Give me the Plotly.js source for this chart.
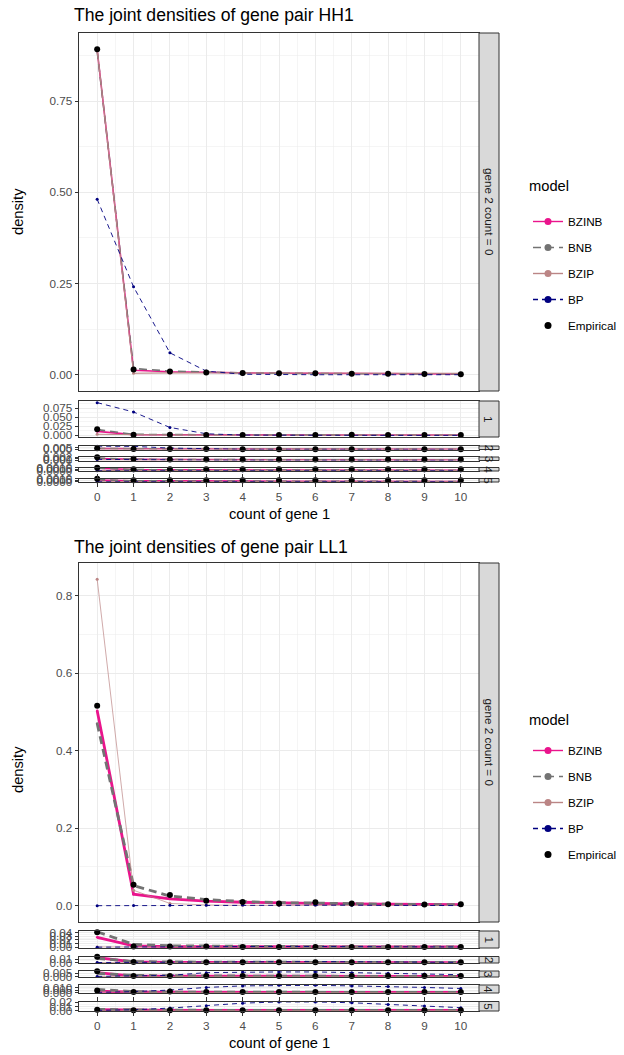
<!DOCTYPE html>
<html><head><meta charset="utf-8">
<script src="https://cdn.plot.ly/plotly-3.0.1.min.js"></script>
<style>html,body{margin:0;padding:0;background:#fff}#chart{width:624px;height:1055px}</style>
</head><body><div id="chart"></div>
<script>
// ---------- data ----------
const gene1Counts = [0,1,2,3,4,5,6,7,8,9,10];
const gene2Counts = [0,1,2,3,4,5];
const modelNames = ["BZINB","BNB","BZIP","BP","Empirical"];
const chartTitles = ["The joint densities of gene pair HH1","The joint densities of gene pair LL1"];

// gene pair HH1: rows = gene 2 count 0..5, columns = gene 1 count 0..10
const hh1_BZINB = [
  [0.890,0.012,0.008,0.006,0.005,0.004,0.004,0.003,0.003,0.003,0.002],
  [0.011,0.002,0.0015,0.001,0.001,0.001,0.001,0.001,0.001,0.001,0.001],
  [0.002,0.001,0.001,0.0008,0.0007,0.0006,0.0005,0.0005,0.0004,0.0004,0.0004],
  [0.0012,0.0006,0.0005,0.0004,0.0004,0.0003,0.0003,0.0003,0.0003,0.0002,0.0002],
  [0.0008,0.0004,0.0003,0.0003,0.0003,0.0002,0.0002,0.0002,0.0002,0.0002,0.0002],
  [0.0006,0.0003,0.0003,0.0002,0.0002,0.0002,0.0002,0.0002,0.0001,0.0001,0.0001]
];
const hh1_BNB = [
  [0.887,0.017,0.010,0.007,0.005,0.004,0.003,0.003,0.002,0.002,0.002],
  [0.016,0.003,0.002,0.0015,0.001,0.001,0.001,0.001,0.001,0.001,0.001],
  [0.0025,0.001,0.001,0.0008,0.0007,0.0006,0.0005,0.0005,0.0004,0.0004,0.0004],
  [0.0014,0.0007,0.0005,0.0004,0.0004,0.0003,0.0003,0.0003,0.0003,0.0002,0.0002],
  [0.0009,0.0004,0.0003,0.0003,0.0003,0.0002,0.0002,0.0002,0.0002,0.0002,0.0002],
  [0.0007,0.0003,0.0003,0.0002,0.0002,0.0002,0.0002,0.0002,0.0001,0.0001,0.0001]
];
const hh1_BZIP = [
  [0.891,0.004,0.005,0.005,0.005,0.005,0.005,0.005,0.005,0.004,0.004],
  [0.003,0.001,0.001,0.001,0.001,0.001,0.001,0.001,0.001,0.001,0.001],
  [0.0005,0.0005,0.0005,0.0005,0.0005,0.0005,0.0005,0.0005,0.0005,0.0005,0.0005],
  [0.0002,0.0002,0.0002,0.0002,0.0002,0.0002,0.0002,0.0002,0.0002,0.0002,0.0002],
  [0.0001,0.0001,0.0001,0.0001,0.0001,0.0001,0.0001,0.0001,0.0001,0.0001,0.0001],
  [0,0,0,0,0,0,0,0,0,0,0]
];
const hh1_BP = [
  [0.481,0.241,0.060,0.010,0.0013,0.0001,0,0,0,0,0],
  [0.091,0.065,0.022,0.0045,0.0007,0.0001,0,0,0,0,0],
  [0.0086,0.0080,0.0035,0.0008,0.0001,0,0,0,0,0,0],
  [0.0006,0.0006,0.0003,0.0001,0,0,0,0,0,0,0],
  [0,0,0,0,0,0,0,0,0,0,0],
  [0,0,0,0,0,0,0,0,0,0,0]
];
const hh1_Empirical = [
  [0.892,0.014,0.009,0.006,0.005,0.004,0.004,0.003,0.003,0.002,0.001],
  [0.017,0.002,0.002,0.001,0.001,0.001,0.001,0.002,0.001,0.001,0.001],
  [0.003,0.001,0.001,0.001,0.0005,0.0005,0.0005,0.0005,0.0005,0.0005,0.0005],
  [0.002,0.001,0.0005,0.0005,0.0005,0.0005,0.0005,0.0005,0.0005,0.0005,0.0005],
  [0.001,0.0005,0.0005,0.0005,0.0005,0.0005,0.0005,0.0005,0.0005,0.0005,0.0005],
  [0.001,0.0005,0.0005,0.0005,0.0005,0.0005,0.0005,0.0005,0.0005,0.0005,0.0005]
];

// gene pair LL1
const ll1_BZINB = [
  [0.503,0.030,0.018,0.012,0.009,0.007,0.006,0.005,0.004,0.004,0.003],
  [0.027,0.004,0.002,0.0015,0.001,0.001,0.001,0.001,0.001,0.001,0.001],
  [0.014,0.002,0.001,0.001,0.001,0.0008,0.0007,0.0006,0.0005,0.0005,0.0004],
  [0.006,0.001,0.001,0.0008,0.0007,0.0006,0.0005,0.0005,0.0004,0.0004,0.0003],
  [0.003,0.001,0.0008,0.0007,0.0006,0.0005,0.0005,0.0004,0.0004,0.0003,0.0003],
  [0.002,0.0006,0.0005,0.0005,0.0004,0.0004,0.0004,0.0003,0.0003,0.0003,0.0003]
];
const ll1_BNB = [
  [0.470,0.052,0.025,0.016,0.011,0.008,0.007,0.005,0.004,0.003,0.003],
  [0.042,0.008,0.004,0.003,0.002,0.0015,0.0012,0.001,0.001,0.001,0.001],
  [0.012,0.003,0.002,0.0015,0.0012,0.001,0.001,0.0008,0.0007,0.0006,0.0005],
  [0.005,0.002,0.0015,0.001,0.001,0.0008,0.0007,0.0006,0.0005,0.0005,0.0004],
  [0.006,0.002,0.001,0.0009,0.0008,0.0007,0.0006,0.0005,0.0005,0.0004,0.0004],
  [0.003,0.001,0.0008,0.0007,0.0006,0.0005,0.0005,0.0004,0.0004,0.0003,0.0003]
];
const ll1_BZIP = [
  [0.842,0.040,0.006,0.002,0.001,0.001,0.001,0.001,0.001,0.001,0.001],
  [0.001,0.002,0.001,0.0005,0.0003,0.0002,0.0002,0.0001,0.0001,0.0001,0.0001],
  [0.0005,0.001,0.0008,0.0004,0.0002,0.0001,0.0001,0.0001,0,0,0],
  [0.0003,0.0005,0.0005,0.0003,0.0002,0.0001,0.0001,0,0,0,0],
  [0.002,0.0006,0.0004,0.0002,0.0001,0.0001,0,0,0,0,0],
  [0.0005,0.0004,0.0003,0.0002,0.0001,0.0001,0.0001,0.0005,0.0001,0,0]
];
const ll1_BP = [
  [0.0002,0.0005,0.001,0.0015,0.002,0.002,0.002,0.0015,0.001,0.0008,0.0005],
  [0.0003,0.001,0.0018,0.002,0.0022,0.0022,0.002,0.0018,0.0015,0.001,0.0008],
  [0.0005,0.001,0.002,0.003,0.003,0.003,0.003,0.0025,0.002,0.0015,0.001],
  [0.0005,0.001,0.002,0.006,0.007,0.007,0.007,0.006,0.005,0.004,0.003],
  [0.0005,0.002,0.005,0.010,0.013,0.014,0.014,0.013,0.012,0.010,0.008],
  [0.0005,0.002,0.006,0.012,0.018,0.021,0.021,0.019,0.015,0.011,0.007]
];
const ll1_Empirical = [
  [0.516,0.054,0.028,0.013,0.010,0.006,0.009,0.006,0.004,0.003,0.004],
  [0.041,0.002,0.002,0.002,0.001,0.001,0.001,0.001,0.001,0.001,0.001],
  [0.016,0.002,0.001,0.001,0.001,0.001,0.001,0.001,0.001,0.001,0.001],
  [0.008,0.001,0.001,0.001,0.001,0.001,0.001,0.001,0.001,0.001,0.001],
  [0.004,0.001,0.002,0.001,0.001,0.001,0.001,0.001,0.001,0.001,0.001],
  [0.002,0.0005,0.0005,0.0005,0.0005,0.0005,0.0005,0.0005,0.0005,0.0005,0.0005]
];

// ---------- styling / geometry ----------
const W = 624, H = 1055;
const fx = p => p / W, fy = p => 1 - p / H;
const FONT = "Liberation Sans, Arial, Helvetica, sans-serif";
const colors = {BZINB:"#ea148c", BNB:"#737373", BZIP:"#bb8585", BP:"#000080", Empirical:"#000000"};
const chartData = [
  {BZINB:hh1_BZINB, BNB:hh1_BNB, BZIP:hh1_BZIP, BP:hh1_BP, Empirical:hh1_Empirical},
  {BZINB:ll1_BZINB, BNB:ll1_BNB, BZIP:ll1_BZIP, BP:ll1_BP, Empirical:ll1_Empirical}
];
const lineW = [
  {BZINB:1.6, BNB:1.6, BZIP:1.1, BP:0.9},
  {BZINB:2.8, BNB:2.8, BZIP:0.7, BP:0.9}
];
const dashes = {BZINB:"solid", BNB:"8px,5px", BZIP:"solid", BP:"5px,4px"};
const panelPx = [
  [[33,391],[401,437],[446,449.5],[457,460.5],[467.5,471],[478.5,482]],
  [[563,922],[931,948],[956.5,963],[971,977],[985,993],[1001.5,1011]]
];
const tickStep = [[0.25,0.025,0,0,0,0],[0.2,0.01,0,0,0,0]];
const chartMeta = [
  {titleY:15, ylabY:212, xlabY:514, legTitleY:186, legendTop:207},
  {titleY:547, ylabY:770, xlabY:1043, legTitleY:720, legendTop:736}
];
const PX0 = 79, PX1 = 479, SX0 = 479, SX1 = 499;

function autoStep(span){
  const raw = span/3, mag = Math.pow(10, Math.floor(Math.log10(raw)));
  for (const m of [1,2,2.5,5,10]) if (m*mag >= raw) return m*mag;
  return 10*mag;
}
function decimals(step){
  let d = 0;
  while (d < 8 && Math.abs(Math.round(step*Math.pow(10,d)) - step*Math.pow(10,d)) > 1e-7) d++;
  return d;
}

const traces = [], layout = {
  width: W, height: H, margin:{l:0,r:0,t:0,b:0},
  paper_bgcolor:"#fff", plot_bgcolor:"#fff",
  font:{family:FONT, color:"#000"},
  shapes:[], annotations:[], showlegend:true
};
const gridC = "#ebebeb", lineC = "#333333";

chartData.forEach((cd, c) => {
  const xName = c === 0 ? "x" : "x2";
  const xKey = c === 0 ? "xaxis" : "xaxis2";
  const lastY = c*6 + 6;
  layout[xKey] = {
    domain:[fx(PX0), fx(PX1)], anchor:"y"+lastY, range:[-0.5,10.5],
    tickvals:gene1Counts, ticktext:gene1Counts.map(String),
    ticks:"outside", ticklen:3.5, tickwidth:1, tickcolor:lineC,
    tickfont:{size:11.7, color:"#4d4d4d", family:FONT},
    showgrid:true, gridcolor:gridC, gridwidth:1,
    minor:{dtick:0.5, tick0:0.5, showgrid:true, gridcolor:gridC, gridwidth:0.5, ticks:""},
    showline:true, linecolor:lineC, linewidth:1, mirror:"all", zeroline:false, fixedrange:true
  };
  gene2Counts.forEach((g2, r) => {
    const yi = c*6 + r + 1;
    const yName = "y" + yi, yKey = "yaxis" + yi;
    let lo = Infinity, hi = -Infinity;
    modelNames.forEach(m => cd[m][r].forEach(v => { lo = Math.min(lo, v); hi = Math.max(hi, v); }));
    const span = (hi - lo) || 1e-4;
    const rng = [lo - 0.05*span, hi + 0.05*span];
    const step = tickStep[c][r] || autoStep(span);
    const dec = decimals(step);
    const tv = [], mv = [];
    for (let k = Math.ceil(rng[0]/step); k*step <= rng[1] + 1e-12; k++) tv.push(+(k*step).toFixed(10));
    for (let k = Math.ceil(rng[0]/(step/2)); k*(step/2) <= rng[1]; k++) if (k % 2) mv.push(k*step/2);
    const [p0, p1] = panelPx[c][r];
    layout[yKey] = {
      domain:[fy(p1), fy(p0)], anchor:xName, range:rng,
      tickvals:tv, ticktext:tv.map(v => Math.abs(v).toFixed(dec)),
      ticks:"outside", ticklen:3.5, tickwidth:1, tickcolor:lineC,
      tickfont:{size:11.7, color:"#4d4d4d", family:FONT},
      showgrid:true, gridcolor:gridC, gridwidth:1,
      minor:{tickvals:mv, showgrid:true, gridcolor:gridC, gridwidth:0.5, ticks:""},
      showline:true, linecolor:lineC, linewidth:1, mirror:"all", zeroline:false, fixedrange:true
    };
    // strip
    layout.shapes.push({type:"rect", xref:"paper", yref:"paper", x0:fx(SX0), x1:fx(SX1), y0:fy(p1), y1:fy(p0),
      fillcolor:"#d9d9d9", line:{color:lineC, width:1}, layer:"above"});
    layout.annotations.push({xref:"paper", yref:"paper", x:fx((SX0+SX1)/2), y:fy((p0+p1)/2),
      text: r === 0 ? "gene 2 count = 0" : String(g2), textangle:90, showarrow:false,
      font:{size:11.7, color:"#1a1a1a", family:FONT}, xanchor:"center", yanchor:"middle"});
    // data traces
    modelNames.forEach(m => {
      const isEmp = m === "Empirical";
      traces.push({
        type:"scatter", x:gene1Counts, y:cd[m][r], xaxis:xName, yaxis:yName,
        mode: isEmp ? "markers" : "lines+markers", showlegend:false, hoverinfo:"skip",
        line: isEmp ? undefined : {color:colors[m], width:lineW[c][m], dash:dashes[m]},
        marker:{color:colors[m], size: isEmp ? 6 : (m === "BP" || m === "BZIP" ? 3 : 2.5)},
        cliponaxis:false
      });
    });
  });
  // legend entries
  const legKey = c === 0 ? "legend" : "legend2";
  modelNames.forEach(m => {
    const isEmp = m === "Empirical";
    traces.push({
      type:"scatter", x:[null], y:[null], xaxis:xName, yaxis:"y"+(c*6+1), name:m,
      legend:legKey, legendgroup:legKey+m, showlegend:true,
      mode: isEmp ? "markers" : "lines+markers",
      line: isEmp ? undefined : {color:colors[m], width:1.4, dash:dashes[m]},
      marker:{color:colors[m], size:7}
    });
  });
  layout[legKey] = {
    x:fx(528), xanchor:"left", y:fy(chartMeta[c].legendTop), yanchor:"top",
    bgcolor:"rgba(0,0,0,0)", borderwidth:0, itemwidth:30, tracegroupgap:7,
    font:{size:11.7, color:"#000", family:FONT}, itemclick:false, itemdoubleclick:false
  };
  layout.annotations.push({xref:"paper", yref:"paper", x:fx(527), y:fy(chartMeta[c].legTitleY),
    text:"model", showarrow:false, xanchor:"left", yanchor:"middle",
    font:{size:14.7, color:"#000", family:FONT}});
  // titles
  layout.annotations.push({xref:"paper", yref:"paper", x:fx(72), y:fy(chartMeta[c].titleY),
    text:chartTitles[c], showarrow:false, xanchor:"left", yanchor:"middle",
    font:{size:17.6, color:"#000", family:FONT}});
  layout.annotations.push({xref:"paper", yref:"paper", x:fx((PX0+PX1)/2), y:fy(chartMeta[c].xlabY),
    text:"count of gene 1", showarrow:false, xanchor:"center", yanchor:"middle",
    font:{size:14.7, color:"#000", family:FONT}});
  layout.annotations.push({xref:"paper", yref:"paper", x:fx(18), y:fy(chartMeta[c].ylabY),
    text:"density", textangle:-90, showarrow:false, xanchor:"center", yanchor:"middle",
    font:{size:14.7, color:"#000", family:FONT}});
});

Plotly.newPlot("chart", traces, layout, {staticPlot:true, displayModeBar:false});
</script></body></html>
